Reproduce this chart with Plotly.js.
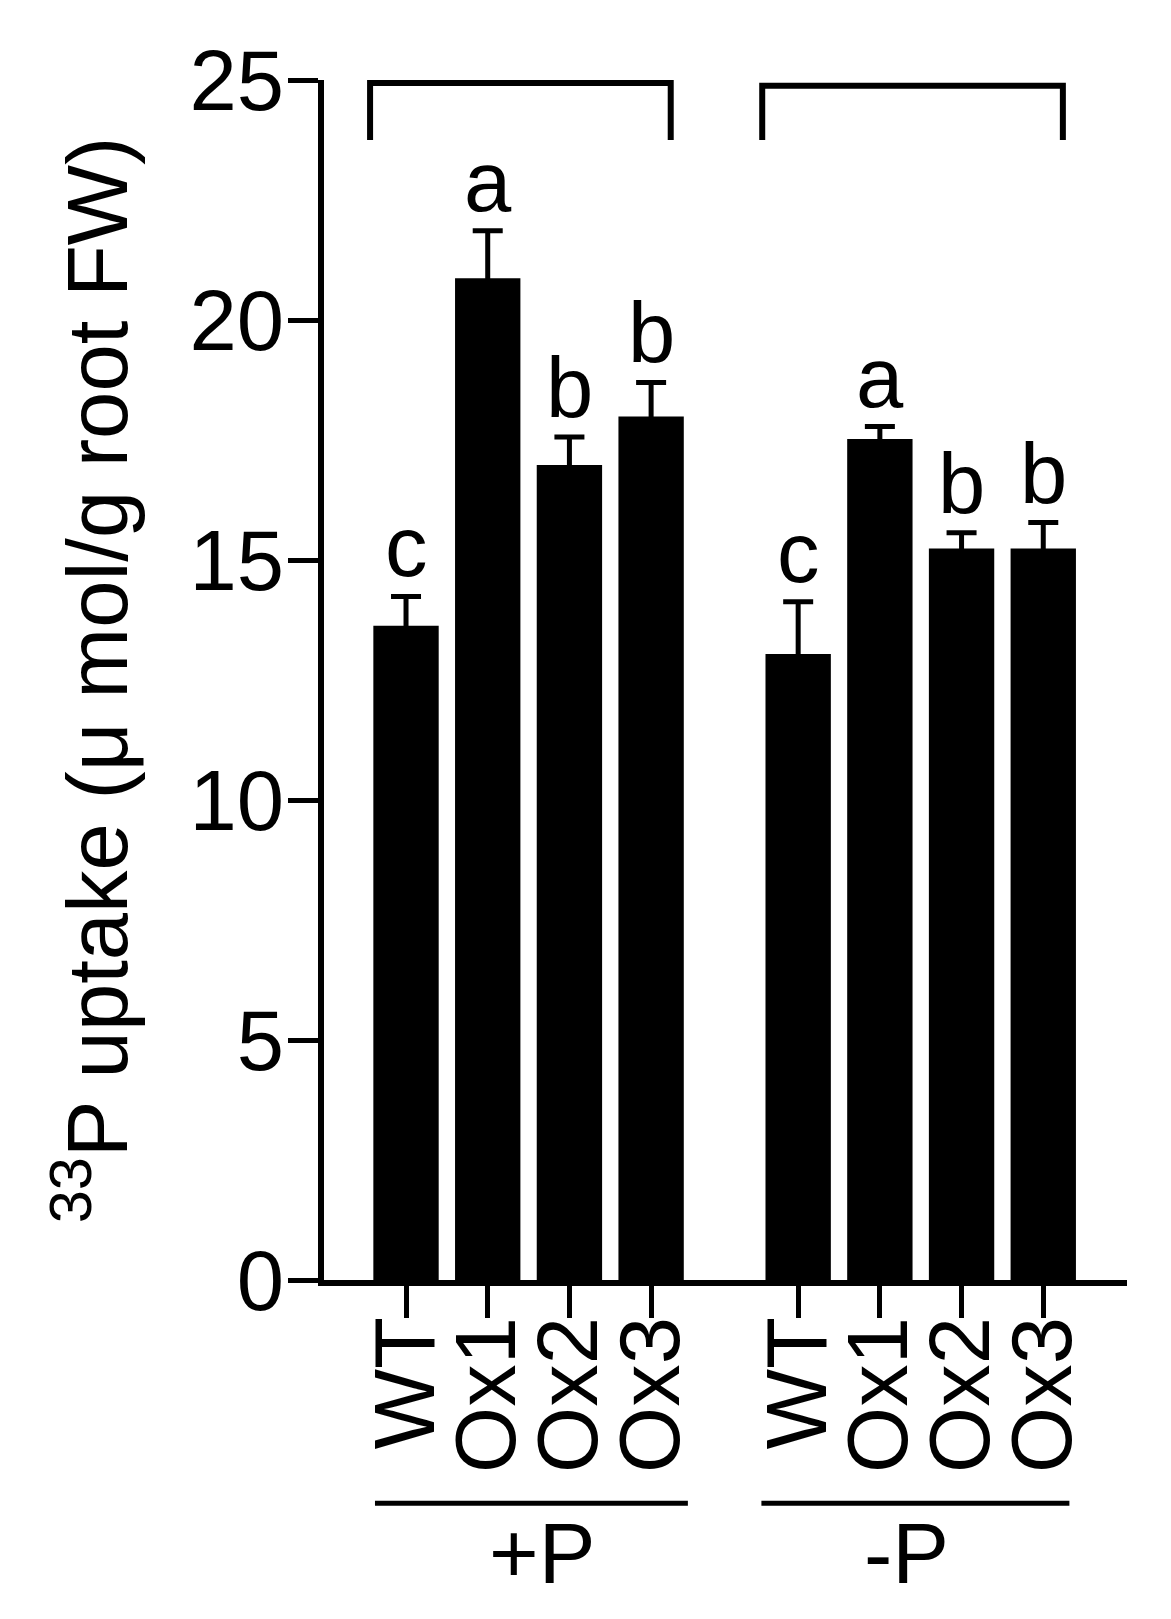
<!DOCTYPE html>
<html>
<head>
<meta charset="utf-8">
<script src="https://cdn.plot.ly/plotly-3.0.1.min.js"></script>
<style>html,body{margin:0;padding:0;background:#fff;}</style>
</head>
<body>
<div id="chart" style="width:1171px;height:1619px;"></div>
<script>
// ---- data ----
const genotypes = ['WT', 'Ox1', 'Ox2', 'Ox3'];
const conditions = ['+P', '-P'];
const uptakePlusP = [13.63, 20.87, 16.98, 17.99];
const sePlusP = [0.61, 0.99, 0.58, 0.71];
const uptakeMinusP = [13.04, 17.52, 15.24, 15.24];
const seMinusP = [1.09, 0.26, 0.33, 0.54];
const lettersPlusP = ['c', 'a', 'b', 'b'];
const lettersMinusP = ['c', 'a', 'b', 'b'];

// ---- layout helpers ----
const groupStep = 4.8;
const FONT = 'Arial, "Liberation Sans", Helvetica, sans-serif';
const FS = 85;
const groups = [
  {name: conditions[0], vals: uptakePlusP, se: sePlusP, letters: lettersPlusP},
  {name: conditions[1], vals: uptakeMinusP, se: seMinusP, letters: lettersMinusP}
];

const xs = [], ys = [], es = [], tickText = [], letterTxt = [];
groups.forEach((g, gi) => {
  genotypes.forEach((gt, i) => {
    xs.push(gi * groupStep + i);
    ys.push(g.vals[i]);
    es.push(g.se[i]);
    tickText.push(gt);
    letterTxt.push(g.letters[i]);
  });
});

const trace = {
  type: 'bar',
  x: xs,
  y: ys,
  width: 0.8,
  marker: {color: '#000', line: {width: 0}},
  error_y: {type: 'data', array: es, symmetric: true,
            color: '#000', thickness: 5, width: 15},
  hoverinfo: 'none'
};

const annotations = xs.map((x, k) => ({
  x: x, y: ys[k] + es[k], xref: 'x', yref: 'y',
  text: letterTxt[k], showarrow: false, yanchor: 'bottom',
  font: {family: FONT, size: FS, color: '#000'}
}));

// group labels below axis
const groupLabelX = [1.66, 1.32];
groups.forEach((g, gi) => {
  annotations.push({
    x: gi * groupStep + groupLabelX[gi], y: -0.228, xref: 'x', yref: 'paper',
    text: g.name, showarrow: false, yanchor: 'middle',
    font: {family: FONT, size: FS, color: '#000'}
  });
});

const shapes = [];
// significance brackets above groups
const bracketTop = [24.94, 24.88];
groups.forEach((g, gi) => {
  const x0 = gi * groupStep - 0.44;
  const x1 = gi * groupStep + 3.24;
  const top = bracketTop[gi];
  const bot = 23.75;
  shapes.push({type: 'path', xref: 'x', yref: 'y',
    path: `M ${x0} ${bot} L ${x0} ${top} L ${x1} ${top} L ${x1} ${bot}`,
    line: {color: '#000', width: 6}});
});
// underline of groups
const underlineSpan = [[-0.38, 3.45], [-0.45, 3.32]];
groups.forEach((g, gi) => {
  shapes.push({type: 'line', xref: 'x', yref: 'paper',
    x0: gi * groupStep + underlineSpan[gi][0], x1: gi * groupStep + underlineSpan[gi][1],
    y0: -0.186, y1: -0.186, line: {color: '#000', width: 5}});
});

const layout = {
  width: 1171, height: 1619,
  margin: {l: 324, r: 44, t: 80, b: 339, pad: 0},
  paper_bgcolor: '#fff', plot_bgcolor: '#fff',
  showlegend: false,
  font: {family: FONT, size: FS, color: '#000'},
  xaxis: {
    range: [-1.004, 8.825],
    tickmode: 'array', tickvals: xs, ticktext: tickText,
    tickangle: -90,
    ticks: 'outside', ticklen: 32, tickwidth: 5, tickcolor: '#000',
    ticklabelstandoff: -35,
    showline: true, linewidth: 6, linecolor: '#000',
    showgrid: false, zeroline: false,
    tickfont: {family: FONT, size: FS, color: '#000'}
  },
  yaxis: {
    range: [0, 25],
    tickmode: 'linear', tick0: 0, dtick: 5,
    ticks: 'outside', ticklen: 30, tickwidth: 5, tickcolor: '#000',
    ticklabelstandoff: -13,
    showline: true, linewidth: 6, linecolor: '#000',
    showgrid: false, zeroline: false,
    tickfont: {family: FONT, size: FS, color: '#000'},
    title: {text: '<sup>33</sup>P uptake (μ mol/g root FW)',
            font: {family: FONT, size: FS, color: '#000'}, standoff: 36}
  },
  annotations: annotations,
  shapes: shapes
};

Plotly.newPlot('chart', [trace], layout, {displayModeBar: false, staticPlot: true});
</script>
</body>
</html>
